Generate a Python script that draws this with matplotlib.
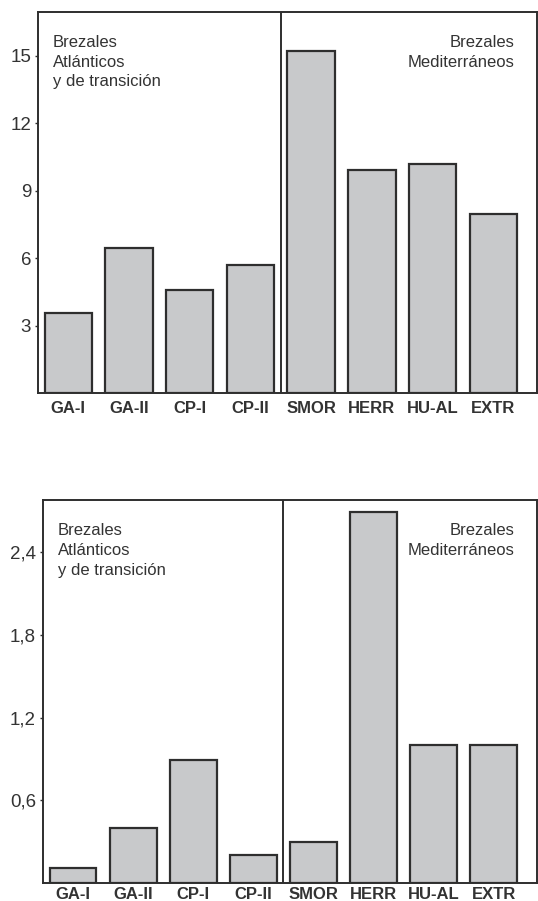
import numpy as np
import matplotlib.pyplot as plt

# categories and values
sites = ['GA-I', 'GA-II', 'CP-I', 'CP-II', 'SMOR', 'HERR', 'HU-AL', 'EXTR']
top_vals = [3.55, 6.45, 4.6, 5.7, 15.2, 9.9, 10.2, 7.95]
bot_vals = [0.11, 0.40, 0.89, 0.20, 0.30, 2.69, 1.0, 1.0]
top_ticks = [3, 6, 9, 12, 15]
top_ticklabels = ['3', '6', '9', '12', '15']
bot_ticks = [0.6, 1.2, 1.8, 2.4]
bot_ticklabels = ['0,6', '1,2', '1,8', '2,4']
left_group = 'Brezales\nAtlánticos\ny de transición'
right_group = 'Brezales\nMediterráneos'

plt.rcParams['font.family'] = ['Liberation Sans Narrow', 'Liberation Sans', 'DejaVu Sans']

fig = plt.figure(figsize=(5.38, 9.01), dpi=100)
ax1 = fig.add_axes([38 / 538, 1 - 393 / 901, 1 - 38 / 538 - 0.002, (393 - 12) / 901])
ax2 = fig.add_axes([43 / 538, 1 - 883 / 901, 1 - 43 / 538 - 0.002, (883 - 500) / 901])

x = np.arange(len(sites))
edge = '#2e2e2e'

for ax, vals, ticks, labels, ylim, xpad in [
        (ax1, top_vals, top_ticks, top_ticklabels, 16.95, 6),
        (ax2, bot_vals, bot_ticks, bot_ticklabels, 2.78, 3)]:
    ax.bar(x, vals, width=0.78, color='#c8c9cb', edgecolor=edge, linewidth=1.6, zorder=2)
    ax.axvline(3.5, color=edge, linewidth=1.4, zorder=3)
    ax.set_xlim(-0.5, 7.72)
    ax.set_ylim(0, ylim)
    ax.set_yticks(ticks)
    ax.set_yticklabels(labels, fontsize=13.5, color='#333333',
                       family=['Liberation Sans', 'DejaVu Sans'])
    ax.set_xticks(x)
    ax.set_xticklabels(sites, fontsize=12, fontweight='bold', color='#333333',
                       family=['Liberation Sans', 'DejaVu Sans'])
    ax.tick_params(axis='x', length=0, pad=xpad)
    ax.tick_params(axis='y', length=2, width=1, color=edge, pad=3)
    for s in ax.spines.values():
        s.set_color(edge)
        s.set_linewidth(1.4)
    ax.text(0.03, 0.94, left_group, transform=ax.transAxes, ha='left', va='top',
            fontsize=12, color='#333333', linespacing=1.4)
    ax.text(0.955, 0.94, right_group, transform=ax.transAxes, ha='right', va='top',
            fontsize=12, color='#333333', linespacing=1.4, multialignment='right')

plt.savefig('out.png', dpi=100)
